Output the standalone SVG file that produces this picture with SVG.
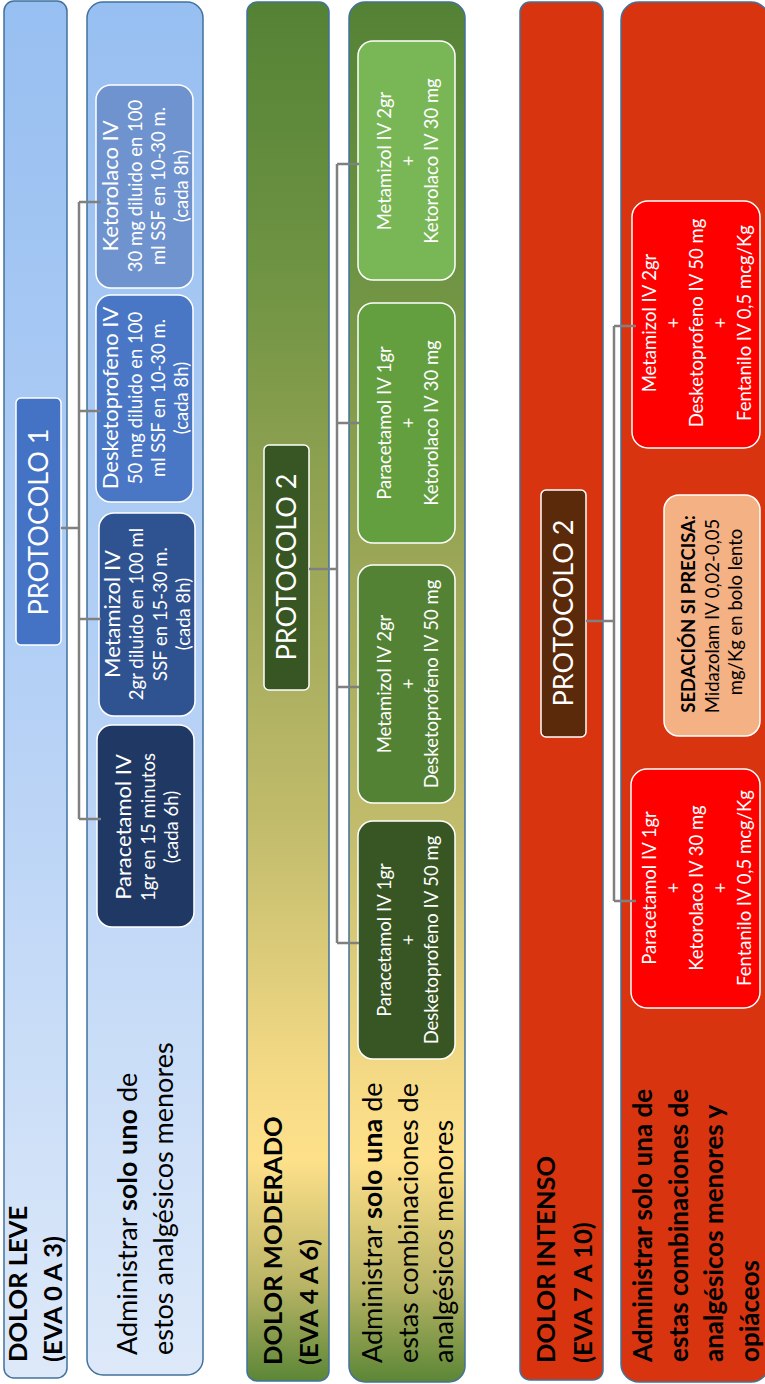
<svg xmlns="http://www.w3.org/2000/svg" width="765" height="1384" viewBox="0 0 765 1384">
  <defs>
    <linearGradient id="gBlue" x1="0" y1="0" x2="0" y2="1">
      <stop offset="0" stop-color="#97bff1"/>
      <stop offset="0.5" stop-color="#b4d0f5"/>
      <stop offset="1" stop-color="#dde9f9"/>
    </linearGradient>
    <linearGradient id="gGreen" x1="0" y1="0" x2="0" y2="1">
      <stop offset="0" stop-color="#548235"/>
      <stop offset="0.2" stop-color="#6f9443"/>
      <stop offset="0.4" stop-color="#9aa656"/>
      <stop offset="0.6" stop-color="#c2bc6c"/>
      <stop offset="0.78" stop-color="#f5da86"/>
      <stop offset="0.84" stop-color="#fee08a"/>
      <stop offset="0.93" stop-color="#b9b566"/>
      <stop offset="1" stop-color="#5b8636"/>
    </linearGradient>
    <style>
      .panel { stroke: #41719c; stroke-width: 1.5; }
      .box { stroke: #ffffff; stroke-width: 1.5; }
      .f { font-family: Lato, "Liberation Sans", sans-serif; text-anchor: middle; }
      .s { text-anchor: start; }
      .w { fill: #ffffff; }
      .k { fill: #000000; }
      .b { font-weight: bold; }
      .title { font-size: 22px; }
      .body { font-size: 18.5px; }
      .big { font-size: 27px; }
      .head { font-size: 25.5px; font-weight: bold; }
      .bigb { font-size: 26px; font-weight: bold; }
      .proto { font-size: 27px; }
      .conn { fill: none; stroke: #808080; stroke-width: 2.5; }
    </style>
  </defs>

  <!-- Column 1: mild pain -->
  <g id="leve-header">
    <rect class="panel" x="4" y="1" width="63" height="1377" rx="10" fill="url(#gBlue)"/>
    <g transform="rotate(-90)">
      <text class="f s k head" x="-1362" y="27">DOLOR LEVE</text>
      <text class="f s k head" x="-1362" y="62">(EVA 0 A 3)</text>
    </g>
  </g>
  <g id="leve-panel">
    <rect class="panel" x="87" y="2" width="116" height="1373" rx="16" fill="url(#gBlue)"/>
    <g transform="rotate(-90)">
      <text class="f s k big" x="-1355" y="137">Administrar <tspan class="b">solo uno</tspan> de</text>
      <text class="f s k big" x="-1355" y="173">estos analgésicos menores</text>
    </g>
  </g>
  <g id="protocolo-1">
    <rect class="box" x="16" y="398" width="45" height="247" rx="5" fill="#4472c4"/>
    <text class="f w proto" transform="rotate(-90)" x="-522" y="48">PROTOCOLO 1</text>
  </g>
  <g id="leve-ketorolaco">
    <rect class="box" x="96" y="85" width="97" height="203" rx="15" fill="#6f93ce"/>
    <g transform="rotate(-90)" class="f w">
      <text class="title" x="-186" y="118">Ketorolaco IV</text>
      <text class="body" x="-186" y="142">30 mg diluido en 100</text>
      <text class="body" x="-186" y="165">ml SSF en 10-30 m.</text>
      <text class="body" x="-186" y="188">(cada 8h)</text>
    </g>
  </g>
  <g id="leve-desketoprofeno">
    <rect class="box" x="96" y="295" width="97" height="207" rx="15" fill="#4a77c5"/>
    <g transform="rotate(-90)" class="f w">
      <text class="title" x="-398" y="118">Desketoprofeno IV</text>
      <text class="body" x="-398" y="142">50 mg diluido en 100</text>
      <text class="body" x="-398" y="165">ml SSF en 10-30 m.</text>
      <text class="body" x="-398" y="188">(cada 8h)</text>
    </g>
  </g>
  <g id="leve-metamizol">
    <rect class="box" x="99" y="513" width="96" height="203" rx="15" fill="#2f5291"/>
    <g transform="rotate(-90)" class="f w">
      <text class="title" x="-614" y="120">Metamizol IV</text>
      <text class="body" x="-614" y="143">2gr diluido en 100 ml</text>
      <text class="body" x="-614" y="167">SSF en 15-30 m.</text>
      <text class="body" x="-614" y="190">(cada 8h)</text>
    </g>
  </g>
  <g id="leve-paracetamol">
    <rect class="box" x="97" y="725" width="97" height="202" rx="15" fill="#203864"/>
    <g transform="rotate(-90)" class="f w">
      <text class="title" x="-827" y="131">Paracetamol IV</text>
      <text class="body" x="-827" y="155">1gr en 15 minutos</text>
      <text class="body" x="-827" y="178">(cada 6h)</text>
    </g>
  </g>

  <!-- Column 2: moderate pain -->
  <g id="moderado-header">
    <rect class="panel" x="247" y="2" width="82" height="1379" rx="10" fill="url(#gGreen)"/>
    <g transform="rotate(-90)">
      <text class="f s k head" x="-1365" y="282">DOLOR MODERADO</text>
      <text class="f s k head" x="-1365" y="318">(EVA 4 A 6)</text>
    </g>
  </g>
  <g id="moderado-panel">
    <rect class="panel" x="349" y="2" width="116" height="1380" rx="16" fill="url(#gGreen)"/>
    <g transform="rotate(-90)">
      <text class="f s k big" x="-1363" y="382">Administrar <tspan class="b">solo una</tspan> de</text>
      <text class="f s k big" x="-1363" y="418">estas combinaciones de</text>
      <text class="f s k big" x="-1363" y="453">analgésicos menores</text>
    </g>
  </g>
  <g id="protocolo-2-moderado">
    <rect class="box" x="264" y="445" width="45" height="245" rx="5" fill="#375623"/>
    <text class="f w proto" transform="rotate(-90)" x="-567" y="296">PROTOCOLO 2</text>
  </g>
  <g id="mod-metamizol-ketorolaco">
    <rect class="box" x="358" y="41" width="97" height="239" rx="15" fill="#79b655"/>
    <g transform="rotate(-90)" class="f w body">
      <text x="-161" y="391">Metamizol IV 2gr</text>
      <text x="-161" y="415">+</text>
      <text x="-161" y="438">Ketorolaco IV 30 mg</text>
    </g>
  </g>
  <g id="mod-paracetamol-ketorolaco">
    <rect class="box" x="358" y="303" width="97" height="240" rx="15" fill="#639e3f"/>
    <g transform="rotate(-90)" class="f w body">
      <text x="-423" y="391">Paracetamol IV 1gr</text>
      <text x="-423" y="415">+</text>
      <text x="-423" y="438">Ketorolaco IV 30 mg</text>
    </g>
  </g>
  <g id="mod-metamizol-desketoprofeno">
    <rect class="box" x="358" y="565" width="97" height="238" rx="15" fill="#548235"/>
    <g transform="rotate(-90)" class="f w body">
      <text x="-684" y="391">Metamizol IV 2gr</text>
      <text x="-684" y="415">+</text>
      <text x="-684" y="438">Desketoprofeno IV 50 mg</text>
    </g>
  </g>
  <g id="mod-paracetamol-desketoprofeno">
    <rect class="box" x="358" y="821" width="97" height="238" rx="15" fill="#375623"/>
    <g transform="rotate(-90)" class="f w body">
      <text x="-940" y="391">Paracetamol IV 1gr</text>
      <text x="-940" y="415">+</text>
      <text x="-940" y="438">Desketoprofeno IV 50 mg</text>
    </g>
  </g>

  <!-- Column 3: severe pain -->
  <g id="intenso-header">
    <rect class="panel" x="520" y="2" width="83" height="1378" rx="10" fill="#d8340f"/>
    <g transform="rotate(-90)">
      <text class="f s k head" x="-1363" y="555">DOLOR INTENSO</text>
      <text class="f s k head" x="-1363" y="592">(EVA 7 A 10)</text>
    </g>
  </g>
  <g id="intenso-panel">
    <rect class="panel" x="621" y="2" width="148" height="1380" rx="18" fill="#d8340f"/>
    <g transform="rotate(-90)" class="f s k bigb">
      <text x="-1362" y="652">Administrar solo una de</text>
      <text x="-1362" y="688">estas combinaciones de</text>
      <text x="-1362" y="723">analgésicos menores y</text>
      <text x="-1362" y="759">opiáceos</text>
    </g>
  </g>
  <g id="protocolo-2-intenso">
    <rect class="box" x="541" y="490" width="45" height="247" rx="5" fill="#5a2a0b"/>
    <text class="f w proto" transform="rotate(-90)" x="-613" y="573">PROTOCOLO 2</text>
  </g>
  <g id="int-metamizol-desketoprofeno-fentanilo">
    <rect class="box" x="632" y="201" width="128" height="247" rx="16" fill="#ff0000"/>
    <g transform="rotate(-90)" class="f w body">
      <text x="-323" y="656">Metamizol IV 2gr</text>
      <text x="-323" y="680">+</text>
      <text x="-323" y="703">Desketoprofeno IV 50 mg</text>
      <text x="-323" y="727">+</text>
      <text x="-323" y="751">Fentanilo IV 0,5 mcg/Kg</text>
    </g>
  </g>
  <g id="int-sedacion">
    <rect class="box" x="664" y="495" width="96" height="241" rx="15" fill="#f4b183"/>
    <g transform="rotate(-90)" class="f k body">
      <text class="b" x="-614" y="695">SEDACIÓN SI PRECISA:</text>
      <text x="-616" y="719">Midazolam IV 0,02-0,05</text>
      <text x="-612" y="742">mg/Kg en bolo lento</text>
    </g>
  </g>
  <g id="int-paracetamol-ketorolaco-fentanilo">
    <rect class="box" x="631" y="769" width="129" height="239" rx="16" fill="#ff0000"/>
    <g transform="rotate(-90)" class="f w body">
      <text x="-888" y="656">Paracetamol IV 1gr</text>
      <text x="-888" y="680">+</text>
      <text x="-888" y="703">Ketorolaco IV 30 mg</text>
      <text x="-888" y="727">+</text>
      <text x="-888" y="751">Fentanilo IV 0,5 mcg/Kg</text>
    </g>
  </g>

  <!-- Connectors: protocol box to each option -->
  <g id="connectors">
    <path class="conn" d="M61,528 H79 M79,202 V819 M79,202 H101 M79,411 H101 M79,619 H101 M79,819 H101"/>
    <path class="conn" d="M309,569 H337 M337,164 V943 M337,164 H359 M337,423 H359 M337,687 H359 M337,943 H359"/>
    <path class="conn" d="M586,621 H614 M614,326 V901 M614,326 H636 M614,901 H636"/>
  </g>
</svg>
